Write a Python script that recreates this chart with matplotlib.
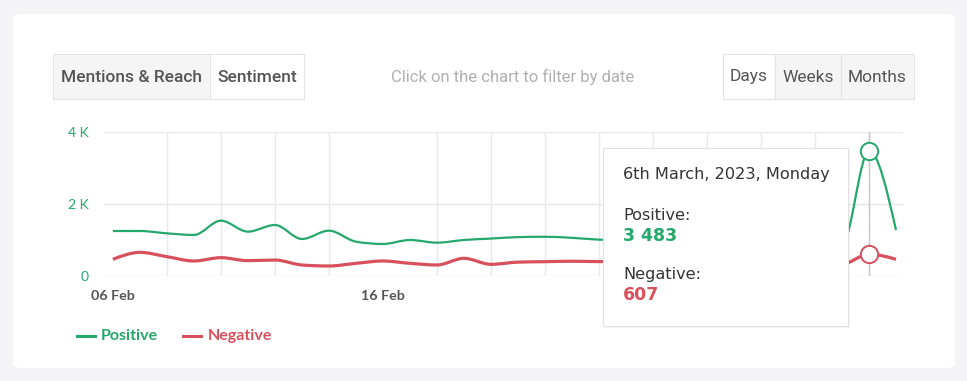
import numpy as np
import matplotlib
matplotlib.use("Agg")
import matplotlib.pyplot as plt
from matplotlib.path import Path
from matplotlib.patches import PathPatch, FancyBboxPatch, Rectangle
from matplotlib.lines import Line2D

# ---------------------------------------------------------------
# data : daily sentiment counts, 06 Feb 2023 -> 07 Mar 2023
# ---------------------------------------------------------------
dates = ["06 Feb", "07 Feb", "08 Feb", "09 Feb", "10 Feb", "11 Feb", "12 Feb",
         "13 Feb", "14 Feb", "15 Feb", "16 Feb", "17 Feb", "18 Feb", "19 Feb",
         "20 Feb", "21 Feb", "22 Feb", "23 Feb", "24 Feb", "25 Feb", "26 Feb",
         "27 Feb", "28 Feb", "01 Mar", "02 Mar", "03 Mar", "04 Mar", "05 Mar",
         "06 Mar", "07 Mar"]
positive = [1250, 1250, 1185, 1140, 1537, 1232, 1417, 1028, 1259, 954,
            889, 1000, 926, 1000, 1040, 1080, 1090, 1060, 1010, 990,
            1020, 960, 1000, 1050, 980, 1010, 950, 870, 3483, 1278]
negative = [463, 657, 537, 417, 509, 426, 444, 306, 278, 352,
            417, 352, 306, 491, 324, 385, 398, 410, 400, 410,
            380, 430, 390, 400, 370, 410, 380, 330, 607, 463]
xtick_labels = ["06 Feb", "16 Feb"]
ytick_labels = ["0", "2 K", "4 K"]
hover_idx = 28

GREEN = "#25a86b"
RED = "#d9505d"
W, H = 967, 381


def fx(px): return px / W
def fy(py): return 1 - py / H


def monotone_path(y):
    # d3 curveMonotoneX style cubic bezier through the daily points
    y = np.asarray(y, float)
    n = len(y)
    s = np.diff(y)
    t = np.zeros(n)
    for i in range(1, n - 1):
        s0, s1 = s[i - 1], s[i]
        p = (s0 + s1) / 2
        t[i] = (np.sign(s0) + np.sign(s1)) * min(abs(s0), abs(s1), 0.5 * abs(p))
    t[0] = (3 * s[0] - t[1]) / 2
    t[-1] = (3 * s[-1] - t[-2]) / 2
    verts = [(0, y[0])]
    codes = [Path.MOVETO]
    for i in range(n - 1):
        d = 1 / 3
        verts += [(i + d, y[i] + d * t[i]), (i + 1 - d, y[i + 1] - d * t[i + 1]), (i + 1, y[i + 1])]
        codes += [Path.CURVE4] * 3
    return Path(verts, codes)


fig = plt.figure(figsize=(W / 100, H / 100), dpi=100)
fig.patch.set_facecolor("#f4f4f6")

# white card
fig.patches.append(FancyBboxPatch((fx(13), fy(368)), fx(955) - fx(13), fy(14) - fy(368),
                                  boxstyle="round,pad=0,rounding_size=0.01",
                                  transform=fig.transFigure, facecolor="white",
                                  edgecolor="none", zorder=-2))

# toolbar buttons
def button(x0, x1, label, active, weight):
    fig.patches.append(Rectangle((fx(x0), fy(99)), fx(x1) - fx(x0), fy(54) - fy(99),
                                 transform=fig.transFigure,
                                 facecolor="white" if active else "#f5f5f6",
                                 edgecolor="#e4e4e6", lw=0.8, zorder=1))
    fig.text(fx((x0 + x1) / 2), fy(77), label, ha="center", va="center",
             fontsize=12.5, family="Roboto", weight=weight, color="#555555", zorder=2)

button(53, 210, "Mentions & Reach", False, "medium")
button(210, 304, "Sentiment", True, "medium")
button(723, 775, "Days", True, "normal")
button(775, 841, "Weeks", False, "normal")
button(841, 914, "Months", False, "normal")
fig.text(fx(513), fy(77), "Click on the chart to filter by date", ha="center", va="center",
         fontsize=12, family="Roboto", color="#b0b0b0")

# chart
ax = fig.add_axes([fx(104), fy(276), fx(903) - fx(104), fy(132) - fy(276)])
x = np.arange(len(dates))
ax.set_xlim(-0.33, len(dates) - 1 + 0.26)
ax.set_ylim(0, 4000)
for sp in ax.spines.values():
    sp.set_visible(False)

ax.set_yticks([0, 2000, 4000])
ax.set_yticklabels(ytick_labels)
ax.set_xticks(x[::2], minor=True)
ax.set_xticks([dates.index(d) for d in xtick_labels])
ax.set_xticklabels(xtick_labels)
ax.tick_params(axis="both", which="both", length=0)
ax.tick_params(axis="y", pad=11, labelsize=10, labelcolor=GREEN)
ax.tick_params(axis="x", pad=10, labelsize=10.3, labelcolor="#555555")
for lab in ax.get_yticklabels():
    lab.set_family("Lato")
for lab in ax.get_xticklabels():
    lab.set_family("Lato")
    lab.set_weight("bold")
ax.grid(True, axis="y", color="#e8e8e8", lw=1)
ax.grid(True, axis="x", which="minor", color="#e8e8e8", lw=1)
ax.set_axisbelow(True)
ax.axvline(hover_idx, color="#c9c9c9", lw=1, zorder=1)

ax.add_patch(PathPatch(monotone_path(positive), facecolor="none", edgecolor=GREEN, lw=1.6, zorder=3))
ax.add_patch(PathPatch(monotone_path(negative), facecolor="none", edgecolor=RED, lw=2.3, zorder=3))
ax.plot([hover_idx], [positive[hover_idx]], "o", ms=12.5, mfc="white", mec=GREEN, mew=1.4, zorder=4, clip_on=False)
ax.plot([hover_idx], [negative[hover_idx]], "o", ms=12.5, mfc="white", mec=RED, mew=1.4, zorder=4, clip_on=False)

# tooltip
fig.patches.append(Rectangle((fx(605), fy(328)), fx(850) - fx(605), fy(150) - fy(328),
                             transform=fig.transFigure, facecolor="#000000", alpha=0.04,
                             edgecolor="none", zorder=5))
fig.patches.append(Rectangle((fx(603), fy(326)), fx(848) - fx(603), fy(148) - fy(326),
                             transform=fig.transFigure, facecolor="white",
                             edgecolor="#e2e2e2", lw=0.8, zorder=6))
TIP = "DejaVu Sans"
fig.text(fx(623), fy(175), "6th March, 2023, Monday", ha="left", va="center",
         fontsize=11.6, family=TIP, color="#333333", zorder=7)
fig.text(fx(623), fy(215), "Positive:", ha="left", va="center",
         fontsize=11.6, family=TIP, color="#333333", zorder=7)
fig.text(fx(623), fy(236), "3 483", ha="left", va="center",
         fontsize=12.5, family=TIP, weight="bold", color=GREEN, zorder=7)
fig.text(fx(623), fy(275), "Negative:", ha="left", va="center",
         fontsize=11.6, family=TIP, color="#333333", zorder=7)
fig.text(fx(623), fy(295), "607", ha="left", va="center",
         fontsize=12.5, family=TIP, weight="bold", color=RED, zorder=7)

# legend
fig.lines.append(Line2D([fx(77), fx(95)], [fy(336), fy(336)], transform=fig.transFigure,
                        color=GREEN, lw=2.2))
fig.text(fx(101), fy(336), "Positive", ha="left", va="center", fontsize=11.5,
         family="Lato", weight="bold", color=GREEN)
fig.lines.append(Line2D([fx(183), fx(201)], [fy(336), fy(336)], transform=fig.transFigure,
                        color=RED, lw=2.2))
fig.text(fx(208), fy(336), "Negative", ha="left", va="center", fontsize=11.5,
         family="Lato", weight="bold", color=RED)

fig.savefig("out.png", dpi=100, facecolor=fig.get_facecolor())
